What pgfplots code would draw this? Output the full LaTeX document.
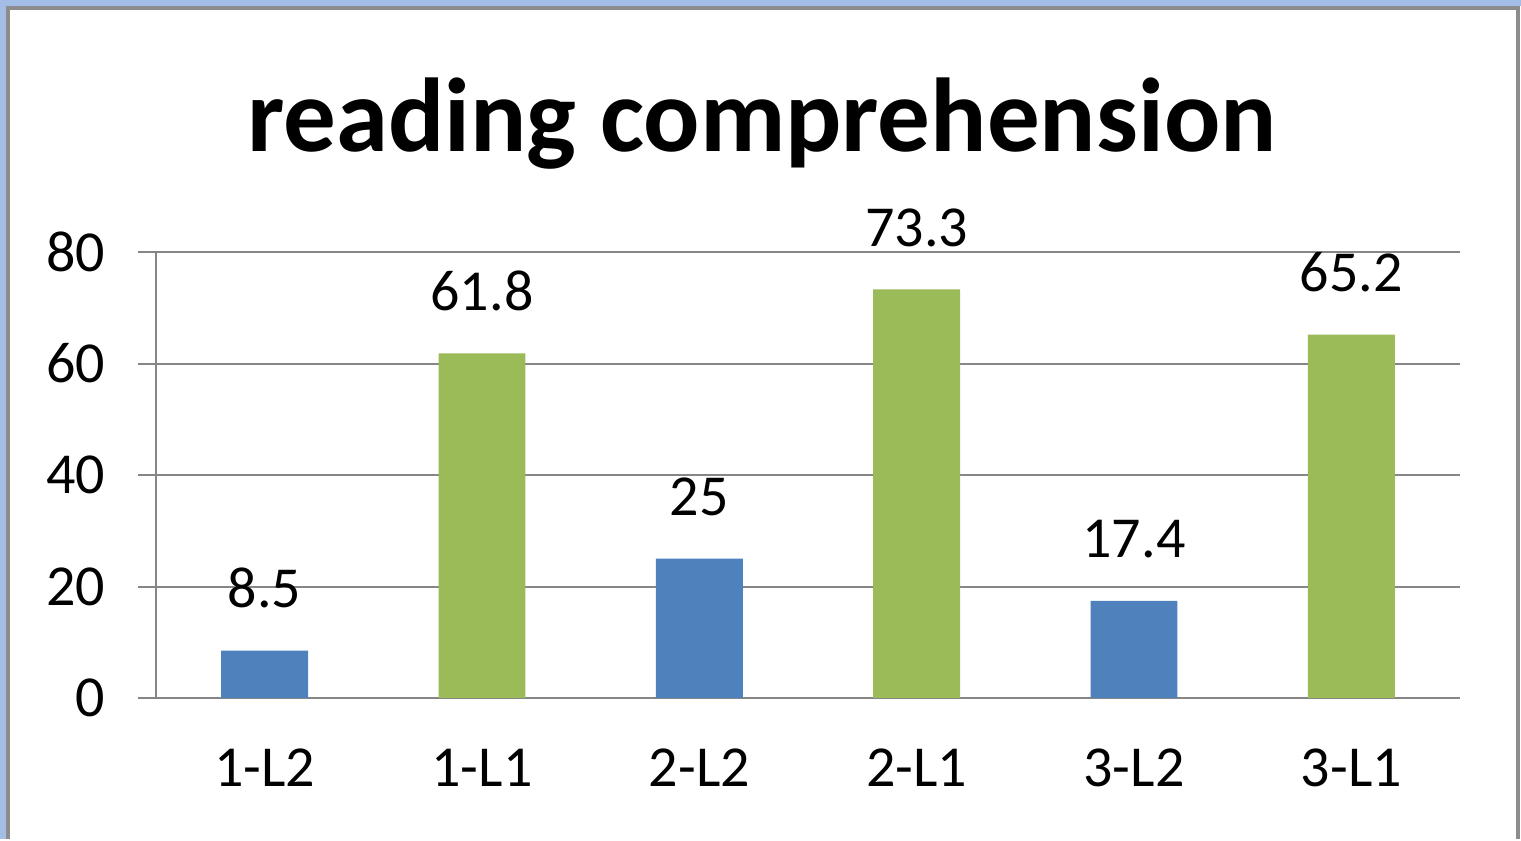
\documentclass[border=0pt]{standalone}
\usepackage{pgfplots}
\pgfplotsset{compat=1.18}
\usepackage{fontspec}
\setmainfont{Carlito}
\definecolor{barblue}{HTML}{4F81BD}
\definecolor{bargreen}{HTML}{9BBB59}
\definecolor{gridgray}{HTML}{868686}
\definecolor{framegray}{HTML}{8C8C8C}
\definecolor{frameblue}{HTML}{A4BDE6}
\begin{document}
\begin{tikzpicture}
\fill[frameblue] (0,0) rectangle (760.5bp,419.5bp);
\fill[white] (3bp,0) rectangle (760.5bp,416.5bp);
\draw[framegray, line width=2bp] (4bp,0) -- (4bp,415.5bp) -- (759bp,415.5bp) -- (759bp,0);
\node[anchor=base, font=\fontsize{52.5bp}{56bp}\selectfont\bfseries] at (381bp,343.5bp) {reading comprehension};
\begin{axis}[
  at={(78bp,70.5bp)}, anchor=south west,
  scale only axis, width=652bp, height=223bp,
  ybar, bar width=0.4, bar shift=0pt,
  xmin=-0.5, xmax=5.5, ymin=0, ymax=80,
  ytick={0,20,40,60,80},
  xtick={0,1,2,3,4,5},
  xticklabels={1-L2,1-L1,2-L2,2-L1,3-L2,3-L1},
  minor xtick={-0.5,0.5,1.5,2.5,3.5,4.5,5.5},
  xtick style={draw=none},
  minor tick length=9bp, major tick length=9bp,
  tick align=outside,
  ytick style={gridgray, line width=1bp},
  minor x tick style={gridgray, line width=1bp},
  axis x line*=bottom, axis y line*=left,
  axis line style={gridgray, line width=1bp},
  ymajorgrids, major grid style={gridgray, line width=1bp},
  /pgf/number format/assume math mode=true,
  ticklabel style={font=\fontsize{29bp}{32bp}\selectfont, text=black},
  xticklabel style={anchor=base, yshift=-35bp},
  yticklabel style={anchor=east, xshift=-13bp},
  nodes near coords,
  every node near coord/.append style={font=\fontsize{29bp}{32bp}\selectfont, anchor=base, yshift=21.5bp, text=black, /pgf/number format/assume math mode=true},
]
\addplot[fill=barblue, draw=none] coordinates {(0,8.5) (2,25) (4,17.4)};
\addplot[fill=bargreen, draw=none] coordinates {(1,61.8) (3,73.3) (5,65.2)};
\end{axis}
\end{tikzpicture}
\end{document}
